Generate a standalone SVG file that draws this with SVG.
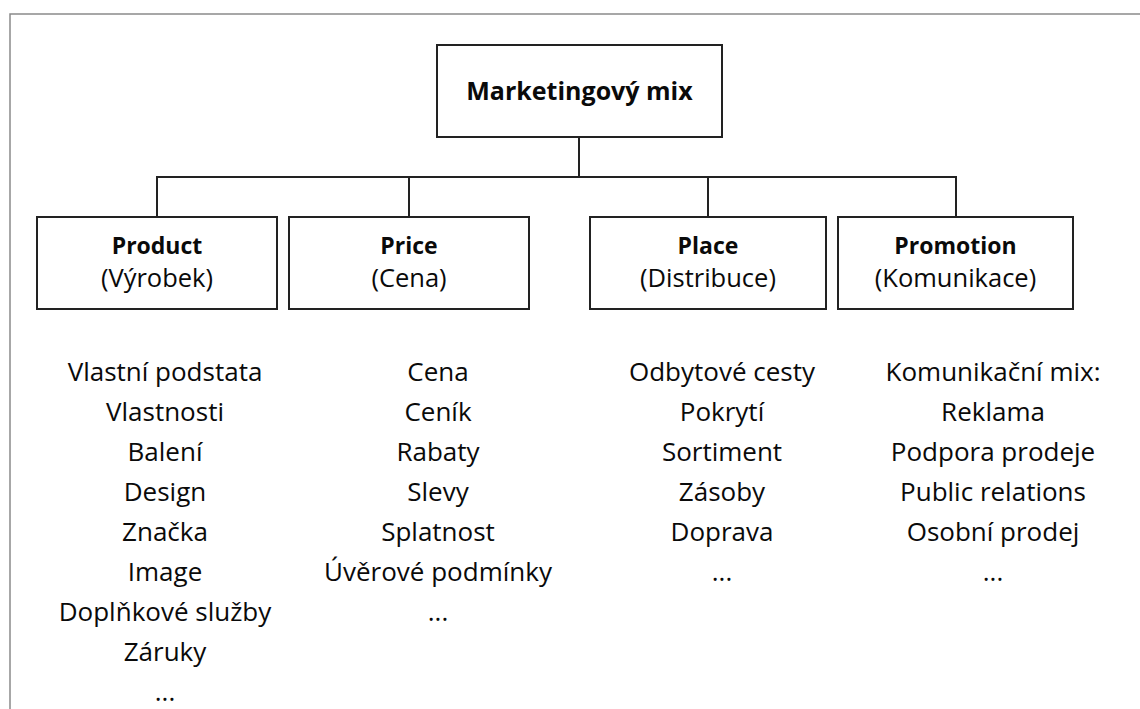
<svg xmlns="http://www.w3.org/2000/svg" width="1140" height="709" viewBox="0 0 1140 709">
<style>
.frame{fill:none;stroke:#8a8a8a;stroke-width:1.5}
.box{fill:#fff;stroke:#222;stroke-width:2}
.conn{fill:none;stroke:#222;stroke-width:2}
text{font-family:"Open Sans",Lato,sans-serif;fill:#0a0a0a;text-anchor:middle}
.title{font-size:25px;font-weight:bold}
.head{font-size:23px;font-weight:bold}
.sub{font-size:25.5px}
.item{font-size:26px}
</style>
<rect width="1140" height="709" fill="#fff"/>
<path class="frame" d="M10,709 V14 H1140"/>
<g id="connectors">
<path class="conn" d="M579,137 V177"/>
<path class="conn" d="M157,218 V177 H956 V218"/>
<path class="conn" d="M409,177 V218"/>
<path class="conn" d="M708,177 V218"/>
</g>
<g id="marketing-mix">
<rect class="box" x="437" y="45" width="285" height="92"/>
<text class="title" x="579.5" y="100">Marketingový mix</text>
</g>
<g id="product">
<rect class="box" x="37" y="217" width="240" height="92"/>
<text class="head" x="157" y="254">Product</text>
<text class="sub" x="157" y="287">(Výrobek)</text>
</g>
<g id="price">
<rect class="box" x="289" y="217" width="240" height="92"/>
<text class="head" x="409" y="254">Price</text>
<text class="sub" x="409" y="287">(Cena)</text>
</g>
<g id="place">
<rect class="box" x="590" y="217" width="236" height="92"/>
<text class="head" x="708" y="254">Place</text>
<text class="sub" x="708" y="287">(Distribuce)</text>
</g>
<g id="promotion">
<rect class="box" x="838" y="217" width="235" height="92"/>
<text class="head" x="955.5" y="254">Promotion</text>
<text class="sub" x="955.5" y="287">(Komunikace)</text>
</g>
<g id="product-list">
<text class="item" x="165" y="381">Vlastní podstata</text>
<text class="item" x="165" y="421">Vlastnosti</text>
<text class="item" x="165" y="461">Balení</text>
<text class="item" x="165" y="501">Design</text>
<text class="item" x="165" y="541">Značka</text>
<text class="item" x="165" y="581">Image</text>
<text class="item" x="165" y="621">Doplňkové služby</text>
<text class="item" x="165" y="661">Záruky</text>
<text class="item" x="165" y="701">...</text>
</g>
<g id="price-list">
<text class="item" x="438" y="381">Cena</text>
<text class="item" x="438" y="421">Ceník</text>
<text class="item" x="438" y="461">Rabaty</text>
<text class="item" x="438" y="501">Slevy</text>
<text class="item" x="438" y="541">Splatnost</text>
<text class="item" x="438" y="581">Úvěrové podmínky</text>
<text class="item" x="438" y="621">...</text>
</g>
<g id="place-list">
<text class="item" x="722" y="381">Odbytové cesty</text>
<text class="item" x="722" y="421">Pokrytí</text>
<text class="item" x="722" y="461">Sortiment</text>
<text class="item" x="722" y="501">Zásoby</text>
<text class="item" x="722" y="541">Doprava</text>
<text class="item" x="722" y="581">...</text>
</g>
<g id="promotion-list">
<text class="item" x="993" y="381">Komunikační mix:</text>
<text class="item" x="993" y="421">Reklama</text>
<text class="item" x="993" y="461">Podpora prodeje</text>
<text class="item" x="993" y="501">Public relations</text>
<text class="item" x="993" y="541">Osobní prodej</text>
<text class="item" x="993" y="581">...</text>
</g>
</svg>
